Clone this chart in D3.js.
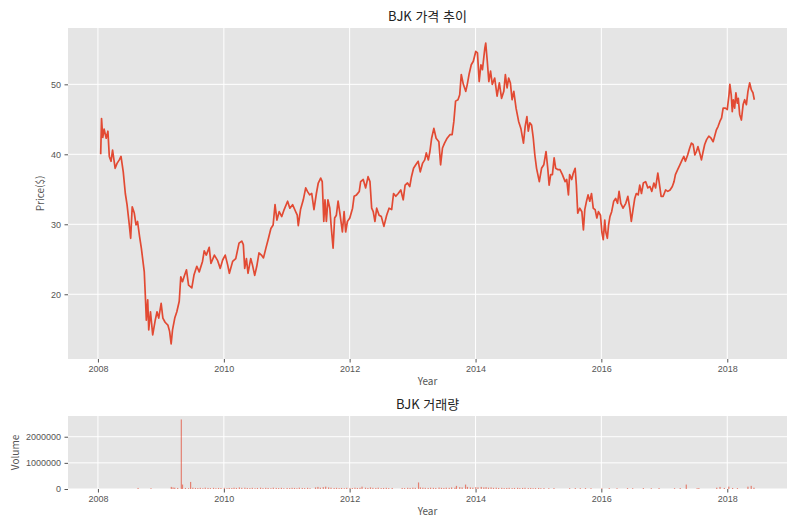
<!DOCTYPE html>
<html lang="ko">
<head>
<meta charset="utf-8">
<title>BJK 가격 추이</title>
<script src="https://cdn.jsdelivr.net/npm/d3@7/dist/d3.min.js"></script>
<style>
  html, body { margin: 0; padding: 0; background: #ffffff; }
  svg { display: block; font-family: "Noto Sans CJK KR", "Noto Sans", sans-serif; }
  .tick text { fill: #555555; font-size: 9px; }
  .tick line { stroke: #555555; }
</style>
</head>
<body>
<div id="chart"></div>
<script>
// ---- data ----
const priceDates = [
  '2008-01-17','2008-01-22','2008-01-29','2008-02-06','2008-02-18','2008-02-28','2008-03-07','2008-03-17','2008-03-26','2008-04-10',
  '2008-04-21','2008-05-04','2008-05-14','2008-05-27','2008-06-08','2008-06-18','2008-06-29','2008-07-09','2008-07-18','2008-07-30',
  '2008-08-09','2008-08-18','2008-08-30','2008-09-09','2008-09-19','2008-09-26','2008-10-02','2008-10-08','2008-10-16','2008-10-22',
  '2008-11-01','2008-11-14','2008-11-28','2008-12-09','2008-12-19','2009-01-02','2009-01-12','2009-01-25','2009-02-10','2009-02-20',
  '2009-03-01','2009-03-09','2009-03-22','2009-04-03','2009-04-17','2009-04-26','2009-05-06','2009-05-15','2009-05-29','2009-06-10',
  '2009-06-29','2009-07-12','2009-07-28','2009-08-11','2009-08-30','2009-09-09','2009-09-21','2009-10-08','2009-10-18','2009-11-07',
  '2009-11-26','2009-12-11','2009-12-25','2010-01-09','2010-01-23','2010-02-02','2010-02-21','2010-03-11','2010-03-30','2010-04-15',
  '2010-04-24','2010-05-02','2010-05-12','2010-05-21','2010-06-06','2010-06-16','2010-06-29','2010-07-11','2010-07-24','2010-08-07',
  '2010-08-19','2010-09-02','2010-09-17','2010-10-01','2010-10-14','2010-10-25','2010-11-05','2010-11-18','2010-12-03','2010-12-17',
  '2011-01-06','2011-01-19','2011-02-04','2011-02-20','2011-03-03','2011-03-09','2011-03-22','2011-04-07','2011-04-21','2011-05-01',
  '2011-05-14','2011-05-26','2011-06-08','2011-06-22','2011-07-03','2011-07-17','2011-07-26','2011-08-04','2011-08-11','2011-08-19',
  '2011-08-28','2011-09-08','2011-09-17','2011-09-27','2011-10-06','2011-10-16','2011-10-26','2011-11-07','2011-11-20','2011-11-30',
  '2011-12-09','2011-12-19','2012-01-02','2012-01-18','2012-01-27','2012-02-10','2012-02-26','2012-03-05','2012-03-20','2012-04-03',
  '2012-04-17','2012-04-28','2012-05-08','2012-05-17','2012-05-27','2012-06-06','2012-06-20','2012-07-03','2012-07-18','2012-08-03',
  '2012-08-17','2012-09-01','2012-09-12','2012-09-25','2012-10-09','2012-10-24','2012-11-07','2012-11-18','2012-12-02','2012-12-15',
  '2012-12-25','2013-01-06','2013-01-19','2013-02-02','2013-02-14','2013-02-27','2013-03-12','2013-03-21','2013-04-02','2013-04-11',
  '2013-04-21','2013-05-04','2013-05-17','2013-06-02','2013-06-12','2013-06-23','2013-07-05','2013-07-20','2013-08-05','2013-08-18',
  '2013-08-28','2013-09-07','2013-09-21','2013-10-01','2013-10-10','2013-10-22','2013-11-05','2013-11-14','2013-11-24','2013-12-07',
  '2013-12-19','2014-01-02','2014-01-12','2014-01-22','2014-02-01','2014-02-10','2014-02-24','2014-03-01','2014-03-10','2014-03-19',
  '2014-03-29','2014-04-08','2014-04-22','2014-05-06','2014-05-19','2014-06-01','2014-06-14','2014-06-23','2014-07-03','2014-07-12',
  '2014-07-22','2014-08-01','2014-08-11','2014-08-24','2014-09-08','2014-09-21','2014-10-06','2014-10-16','2014-10-26','2014-11-03',
  '2014-11-12','2014-11-22','2014-12-02','2014-12-11','2014-12-21','2015-01-06','2015-01-19','2015-02-01','2015-02-14','2015-02-24',
  '2015-03-04','2015-03-13','2015-03-23','2015-04-02','2015-04-11','2015-04-25','2015-05-06','2015-05-20','2015-06-05','2015-06-14',
  '2015-06-24','2015-07-01','2015-07-13','2015-07-22','2015-08-02','2015-08-09','2015-08-17','2015-08-29','2015-09-10','2015-09-19',
  '2015-09-27','2015-10-07','2015-10-16','2015-10-26','2015-11-05','2015-11-15','2015-11-26','2015-12-06','2015-12-15','2015-12-27',
  '2016-01-04','2016-01-12','2016-01-21','2016-01-27','2016-02-05','2016-02-12','2016-02-20','2016-03-01','2016-03-13','2016-03-24',
  '2016-04-04','2016-04-13','2016-04-23','2016-05-06','2016-05-22','2016-06-03','2016-06-14','2016-06-23','2016-07-03','2016-07-13',
  '2016-07-22','2016-08-02','2016-08-11','2016-08-21','2016-09-01','2016-09-14','2016-09-27','2016-10-09','2016-10-20','2016-11-01',
  '2016-11-11','2016-11-24','2016-12-04','2016-12-13','2016-12-25','2017-01-08','2017-01-21','2017-02-03','2017-02-16','2017-02-26',
  '2017-03-06','2017-03-19','2017-04-01','2017-04-14','2017-04-24','2017-05-03','2017-05-16','2017-05-28','2017-06-07','2017-06-17',
  '2017-06-27','2017-07-06','2017-07-15','2017-07-25','2017-08-04','2017-08-14','2017-08-23','2017-09-03','2017-09-16','2017-09-29',
  '2017-10-11','2017-10-20','2017-10-30','2017-11-09','2017-11-19','2017-11-29','2017-12-08','2017-12-21','2018-01-01','2018-01-11',
  '2018-01-16','2018-01-24','2018-01-30','2018-02-05','2018-02-13','2018-02-20','2018-02-28','2018-03-06','2018-03-14','2018-03-24',
  '2018-04-03','2018-04-12','2018-04-22','2018-05-01','2018-05-11','2018-05-21','2018-05-30','2018-06-07'
];

const priceValues = [
  40.0, 45.1, 42.4, 43.6, 42.3, 43.3, 39.7, 39.0, 40.6, 38.0,
  38.7, 39.2, 39.7, 37.5, 34.4, 32.8, 30.4, 28.0, 32.5, 31.6,
  29.9, 30.4, 28.2, 26.6, 24.6, 23.2, 19.9, 16.3, 19.2, 14.9,
  17.5, 14.2, 16.2, 17.5, 16.6, 18.7, 16.6, 16.0, 15.6, 14.7,
  12.9, 14.9, 16.6, 17.5, 19.0, 22.5, 21.8, 22.5, 23.5, 21.3,
  20.9, 22.8, 24.0, 23.2, 24.7, 26.2, 25.6, 26.7, 24.4, 25.6,
  24.8, 23.7, 24.9, 25.6, 24.2, 23.0, 24.7, 25.1, 27.3, 27.6,
  27.1, 23.7, 25.1, 23.0, 25.1, 24.2, 22.7, 24.0, 25.9, 25.6,
  25.2, 26.6, 28.0, 29.4, 29.9, 32.8, 30.6, 31.8, 31.1, 32.1,
  33.3, 32.3, 32.8, 31.9, 31.3, 29.8, 32.1, 33.5, 35.2, 34.7,
  34.2, 34.4, 32.1, 34.4, 35.9, 36.6, 36.1, 30.4, 33.5, 30.4,
  33.5, 32.3, 29.4, 26.6, 30.9, 31.3, 33.3, 31.3, 28.9, 31.8,
  28.9, 30.4, 30.9, 32.3, 34.0, 34.2, 34.7, 36.1, 36.4, 35.2,
  36.8, 36.1, 32.3, 31.8, 30.4, 32.3, 31.3, 31.1, 29.7, 31.3,
  32.3, 32.1, 34.4, 34.0, 34.4, 34.9, 33.5, 35.6, 35.9, 35.4,
  36.8, 38.0, 38.5, 39.0, 37.5, 38.7, 39.2, 40.2, 39.2, 40.4,
  42.3, 43.7, 42.3, 41.8, 38.5, 40.9, 41.6, 42.3, 42.8, 42.8,
  44.7, 47.6, 47.8, 48.5, 51.4, 50.0, 49.0, 50.0, 51.4, 52.8,
  53.3, 54.7, 54.5, 50.4, 52.8, 52.1, 55.2, 55.9, 53.3, 50.4,
  51.9, 50.0, 50.9, 48.3, 50.2, 48.0, 49.0, 51.4, 49.5, 50.9,
  50.2, 47.8, 49.0, 46.6, 44.7, 43.7, 41.6, 44.0, 45.4, 43.3,
  44.5, 44.2, 42.3, 39.9, 38.0, 36.1, 38.0, 38.5, 40.4, 38.0,
  35.6, 37.1, 37.1, 39.5, 38.0, 37.8, 37.8, 37.1, 36.1, 36.4,
  34.2, 37.1, 36.4, 37.3, 38.0, 35.6, 31.6, 32.3, 31.8, 29.2,
  32.1, 33.3, 34.2, 33.3, 34.4, 32.3, 32.1, 30.9, 31.8, 31.3,
  28.9, 27.8, 30.6, 28.9, 28.0, 29.9, 31.1, 31.8, 33.3, 33.7,
  33.0, 34.7, 33.0, 32.3, 33.0, 34.0, 32.3, 30.4, 32.1, 33.7,
  34.4, 34.2, 35.6, 34.4, 35.9, 36.1, 35.2, 35.4, 34.7, 35.9,
  35.2, 37.3, 35.6, 34.0, 34.0, 34.9, 34.7, 34.9, 35.4, 36.1,
  37.1, 37.8, 38.5, 39.2, 39.7, 39.0, 39.9, 40.9, 41.6, 41.4,
  39.9, 40.4, 41.1, 40.2, 39.2, 40.4, 41.4, 42.1, 42.6, 42.3,
  41.8, 42.6, 43.5, 44.0, 44.7, 45.2, 46.6, 46.6, 46.4, 48.5,
  50.0, 48.5, 46.1, 47.8, 46.6, 48.8, 47.3, 48.0, 45.7, 44.9,
  47.1, 47.8, 47.1, 49.0, 50.2, 49.2, 48.8, 47.8
];

const volumeDates = [
  '2008-08-21','2008-11-04','2009-03-02','2009-03-12','2009-03-22','2009-04-08','2009-04-29','2009-05-06','2009-05-23','2009-06-10',
  '2009-06-22','2009-07-05','2009-07-20','2009-08-03','2009-08-17','2009-09-01','2009-09-15','2009-10-01','2009-10-15','2009-11-02',
  '2009-11-16','2009-12-01','2009-12-15','2010-01-04','2010-01-19','2010-02-01','2010-02-16','2010-03-01','2010-03-15','2010-04-01',
  '2010-04-15','2010-05-03','2010-05-17','2010-06-01','2010-06-15','2010-07-01','2010-07-15','2010-08-02','2010-08-16','2010-09-01',
  '2010-09-15','2010-10-01','2010-10-15','2010-11-01','2010-11-15','2010-12-01','2010-12-15','2011-01-03','2011-01-18','2011-02-01',
  '2011-02-15','2011-03-01','2011-03-15','2011-04-01','2011-04-15','2011-05-02','2011-05-16','2011-06-17','2011-07-01','2011-07-15',
  '2011-08-01','2011-08-15','2011-09-01','2011-09-15','2011-10-03','2011-10-17','2011-11-01','2011-11-15','2011-12-01','2011-12-15',
  '2012-01-03','2012-01-17','2012-02-01','2012-02-15','2012-03-01','2012-03-13','2012-04-02','2012-04-16','2012-05-01','2012-05-15',
  '2012-06-01','2012-06-15','2012-07-02','2012-07-16','2012-08-01','2012-08-15','2012-09-04','2012-11-01','2012-11-15','2012-12-03',
  '2012-12-17','2013-01-02','2013-01-16','2013-02-04','2013-02-15','2013-03-01','2013-03-15','2013-04-01','2013-04-15','2013-05-01',
  '2013-05-15','2013-06-03','2013-06-17','2013-07-01','2013-07-15','2013-08-01','2013-08-15','2013-09-03','2013-09-12','2013-10-01',
  '2013-10-15','2013-11-04','2013-11-15','2013-12-02','2013-12-16','2014-01-02','2014-01-15','2014-02-03','2014-02-18','2014-03-03',
  '2014-03-17','2014-04-01','2014-04-15','2014-05-01','2014-05-15','2014-06-02','2014-06-16','2014-07-01','2014-07-15','2014-08-01',
  '2014-08-15','2014-09-02','2014-09-15','2014-10-01','2014-10-15','2014-11-03','2014-11-17','2014-12-01','2014-12-15','2015-01-02',
  '2015-01-15','2015-02-02','2015-03-02','2015-04-01','2015-07-01','2015-08-03','2015-09-01','2015-10-01','2015-11-02','2016-01-04',
  '2016-02-16','2016-04-01','2016-06-01','2016-07-01','2016-09-01','2016-10-17','2016-12-01','2017-03-01','2017-04-03','2017-05-08',
  '2017-07-10','2017-07-20','2017-11-01','2017-11-20','2017-12-15','2018-01-10','2018-02-01','2018-03-01','2018-05-01','2018-05-20',
  '2018-06-05'
];

const volumeValues = [
  40000, 30000, 80000, 60000, 50000, 40000, 2660000, 170000, 40000, 30000,
  270000, 50000, 40000, 35000, 45000, 30000, 50000, 40000, 35000, 45000,
  30000, 40000, 35000, 45000, 30000, 40000, 35000, 50000, 40000, 60000,
  45000, 50000, 40000, 35000, 45000, 30000, 40000, 50000, 35000, 45000,
  40000, 30000, 50000, 40000, 35000, 45000, 30000, 40000, 35000, 45000,
  40000, 30000, 50000, 40000, 35000, 45000, 30000, 60000, 80000, 50000,
  70000, 90000, 60000, 50000, 40000, 45000, 35000, 40000, 30000, 45000,
  40000, 35000, 50000, 40000, 45000, 90000, 50000, 40000, 60000, 45000,
  40000, 50000, 35000, 40000, 45000, 35000, 40000, 40000, 35000, 45000,
  40000, 50000, 45000, 250000, 60000, 50000, 45000, 40000, 50000, 45000,
  40000, 55000, 45000, 40000, 50000, 45000, 60000, 50000, 120000, 70000,
  60000, 170000, 80000, 60000, 50000, 70000, 60000, 80000, 60000, 70000,
  50000, 60000, 45000, 50000, 40000, 45000, 35000, 40000, 45000, 35000,
  40000, 45000, 35000, 40000, 45000, 35000, 40000, 30000, 35000, 40000,
  30000, 35000, 30000, 35000, 30000, 35000, 30000, 35000, 30000, 30000,
  35000, 30000, 35000, 30000, 35000, 30000, 35000, 30000, 35000, 170000,
  30000, 35000, 50000, 80000, 40000, 90000, 40000, 35000, 90000, 120000,
  50000
];

const priceTicks = [20, 30, 40, 50];
const volumeTicks = [0, 1000000, 2000000];

// ---- layout ----
const WIDTH = 800;
const HEIGHT = 528;
const LINE_COLOR = '#E24A33';
const PANEL_BG = '#E5E5E5';
const TEXT_COLOR = '#555555';

const parseDate = d3.timeParse('%Y-%m-%d');
const priceData = priceDates.map((d, i) => ({ date: parseDate(d), value: priceValues[i] }));
const volumeData = volumeDates.map((d, i) => ({ date: parseDate(d), value: volumeValues[i] }));

const svg = d3.select('#chart')
  .append('svg')
  .attr('width', WIDTH)
  .attr('height', HEIGHT);

/**
 * Pad an extent by a fraction on both sides (matplotlib-like auto margins)
 */
function padExtent(extent, frac) {
  const lo = +extent[0];
  const hi = +extent[1];
  const pad = (hi - lo) * frac;
  return [lo - pad, hi + pad];
}

// Shared x domain (both panels use the price series' date range)
const xDomain = padExtent(d3.extent(priceData, d => d.date), 0.05).map(t => new Date(t));

/**
 * Draw one ggplot-style panel: grey background, white grid, axes, labels
 */
function drawPanel(opts) {
  const { left, top, width, height, yScale, yTicks, yFormat, title, yLabel, yLabelX } = opts;

  const x = d3.scaleTime().domain(xDomain).range([0, width]);
  const xTicks = d3.timeYear.every(2).range(new Date(2007, 0, 1), new Date(2019, 0, 2))
    .filter(t => t >= xDomain[0] && t <= xDomain[1]);

  const g = svg.append('g').attr('transform', `translate(${left},${top})`);

  g.append('rect')
    .attr('width', width)
    .attr('height', height)
    .attr('fill', PANEL_BG);

  // grid
  g.append('g').selectAll('line')
    .data(xTicks)
    .enter()
    .append('line')
    .attr('x1', d => x(d)).attr('x2', d => x(d))
    .attr('y1', 0).attr('y2', height)
    .attr('stroke', '#ffffff')
    .attr('stroke-width', 1);

  g.append('g').selectAll('line')
    .data(yTicks)
    .enter()
    .append('line')
    .attr('x1', 0).attr('x2', width)
    .attr('y1', d => yScale(d)).attr('y2', d => yScale(d))
    .attr('stroke', '#ffffff')
    .attr('stroke-width', 1);

  // axes
  const xAxis = g.append('g')
    .attr('transform', `translate(0,${height})`)
    .call(d3.axisBottom(x).tickValues(xTicks).tickFormat(d3.timeFormat('%Y')).tickSize(3.5).tickPadding(3.5));
  xAxis.select('.domain').remove();

  const yAxis = g.append('g')
    .call(d3.axisLeft(yScale).tickValues(yTicks).tickFormat(yFormat).tickSize(3.5).tickPadding(3.5));
  yAxis.select('.domain').remove();

  // title
  svg.append('text')
    .attr('x', left + width / 2)
    .attr('y', top - 7)
    .attr('text-anchor', 'middle')
    .style('font-size', '13px')
    .style('fill', '#222222')
    .text(title);

  // x label
  svg.append('text')
    .attr('x', left + width / 2)
    .attr('y', top + height + 26)
    .attr('text-anchor', 'middle')
    .style('font-size', '10px')
    .style('fill', TEXT_COLOR)
    .text('Year');

  // y label
  svg.append('text')
    .attr('transform', `translate(${yLabelX},${top + height / 2}) rotate(-90)`)
    .attr('text-anchor', 'middle')
    .style('font-size', '10px')
    .style('fill', TEXT_COLOR)
    .text(yLabel);

  return { g, x };
}

// ---- top panel: price ----
const priceTop = 28;
const priceHeight = 331;
const plotLeft = 68;
const plotWidth = 719;

const yPrice = d3.scaleLinear()
  .domain(padExtent(d3.extent(priceData, d => d.value), 0.05))
  .range([priceHeight, 0]);

const pricePanel = drawPanel({
  left: plotLeft, top: priceTop, width: plotWidth, height: priceHeight,
  yScale: yPrice, yTicks: priceTicks, yFormat: d3.format('d'),
  title: 'BJK 가격 추이', yLabel: 'Price($)', yLabelX: 44
});

pricePanel.g.append('path')
  .datum(priceData)
  .attr('fill', 'none')
  .attr('stroke', LINE_COLOR)
  .attr('stroke-width', 1.7)
  .attr('stroke-linejoin', 'round')
  .attr('d', d3.line().x(d => pricePanel.x(d.date)).y(d => yPrice(d.value)));

// ---- bottom panel: volume ----
const volTop = 416;
const volHeight = 73;

const yVol = d3.scaleLinear()
  .domain([0, d3.max(volumeData, d => d.value) * 1.05])
  .range([volHeight, 0]);

const volumePanel = drawPanel({
  left: plotLeft, top: volTop, width: plotWidth, height: volHeight,
  yScale: yVol, yTicks: volumeTicks, yFormat: d3.format('d'),
  title: 'BJK 거래량', yLabel: 'Volume', yLabelX: 19
});

volumePanel.g.selectAll('.bar')
  .data(volumeData)
  .enter()
  .append('rect')
  .attr('class', 'bar')
  .attr('x', d => volumePanel.x(d.date) - 0.6)
  .attr('y', d => yVol(d.value))
  .attr('width', 1.2)
  .attr('height', d => volHeight - yVol(d.value))
  .attr('fill', LINE_COLOR)
  .style('opacity', 0.65);
</script>
</body>
</html>
